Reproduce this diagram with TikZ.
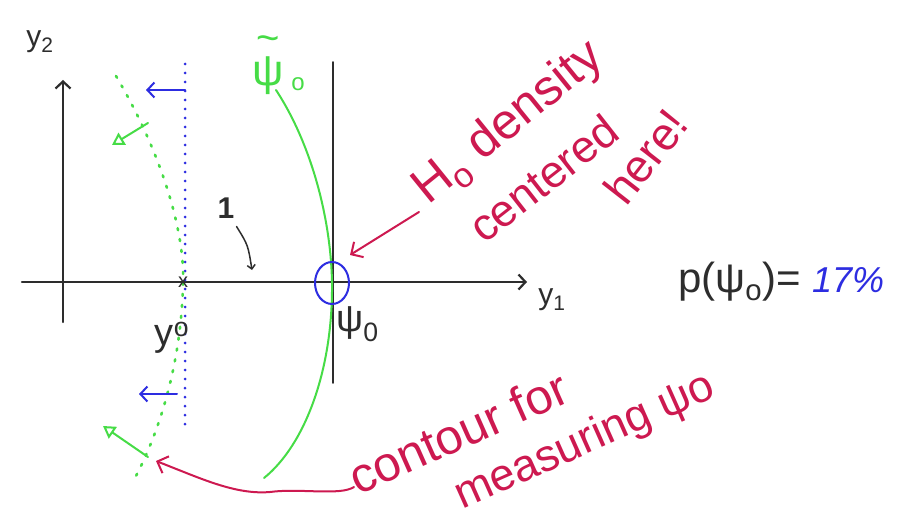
\documentclass[tikz,border=0pt]{standalone}
\usepackage{fontspec}
\setmainfont{Liberation Sans}
\usetikzlibrary{arrows.meta}
\definecolor{rd}{RGB}{205,25,80}
\definecolor{gr}{RGB}{70,220,70}
\definecolor{bl}{RGB}{45,45,225}
\definecolor{ink}{RGB}{45,45,45}
\begin{document}
\begin{tikzpicture}[x=1pt,y=-1pt,line cap=round,line join=round,
  axis/.style={draw=ink,line width=2.2pt},
  barb/.style={-{Straight Barb[length=7pt,width=15pt]}},
  tri/.style={-{Triangle[open,length=12pt,width=14pt,line width=2pt]}},
  lbl/.style={inner sep=0pt,text=ink},
  red/.style={inner sep=0pt,text=rd,font=\fontsize{52}{56}\selectfont}]
\useasboundingbox (0,0) rectangle (916,524);
\fill[white] (0,0) rectangle (916,524);
% axes
\coordinate (xs) at (22,282); \coordinate (xe) at (527,282);
\coordinate (ys) at (63,322); \coordinate (ye) at (63,80);
\coordinate (vs) at (333,62); \coordinate (ve) at (333,383);
\draw[axis,barb] (xs) -- (xe);
\draw[axis,barb] (ys) -- (ye);
\draw[axis,line width=1.7pt] (vs) -- (ve);
\node[lbl,font=\fontsize{30}{32}\selectfont] (y2) at (40,42) {y\textsubscript{2}};
\node[lbl,font=\fontsize{30}{32}\selectfont] (y1) at (552,300) {y\textsubscript{1}};
% blue dotted line
\coordinate (bt) at (185,64); \coordinate (bb) at (185,428);
\draw[bl,line width=3pt,dash pattern=on 0pt off 9pt] (bt) -- (bb);
% green dotted curve
\coordinate (gt) at (116,76); \coordinate (y0) at (183,282); \coordinate (gb) at (136,476);
\draw[gr,line width=2.6pt,dash pattern=on 2pt off 9pt] (gt) .. controls (160,150) and (185,230) .. (y0) .. controls (182,350) and (165,420) .. (gb);
% green contour psi tilde
\coordinate (ct) at (276,90); \coordinate (psi0) at (332,283); \coordinate (cb) at (264,478);
\draw[gr,line width=2pt] (ct) .. controls (312,145) and (331,220) .. (psi0) .. controls (333,370) and (305,445) .. (cb);
\node[lbl,text=gr,font=\fontsize{44}{48}\selectfont] (psit) at (268,76) {ψ};
\node[lbl,text=gr,font=\fontsize{40}{44}\selectfont] (psitt) at (268,44) {\char"7E};
\node[lbl,text=gr,font=\fontsize{24}{26}\selectfont] (psito) at (298,84) {o};
% blue arrows
\coordinate (ba1s) at (185,90); \coordinate (ba1e) at (146,90);
\coordinate (ba2s) at (177,394); \coordinate (ba2e) at (139,394);
\draw[bl,line width=2pt,barb] (ba1s) -- (ba1e);
\draw[bl,line width=2pt,barb] (ba2s) -- (ba2e);
% green arrows
\coordinate (ga1s) at (148,123); \coordinate (ga1e) at (112,145);
\coordinate (ga2s) at (148,457); \coordinate (ga2e) at (103,426);
\draw[gr,line width=2pt,tri] (ga1s) -- (ga1e);
\draw[gr,line width=2pt,tri] (ga2s) -- (ga2e);
% y0 marker
\node[lbl,font=\fontsize{20}{22}\selectfont] (xm) at (y0) {x};
\node[lbl,font=\fontsize{38}{42}\selectfont] (y0l) at (172,338) {y\textsuperscript{o}};
% psi0 and blue circle
\draw[bl,line width=2pt] (psi0) ellipse [x radius=17pt, y radius=21pt];
\node[lbl,font=\fontsize{38}{42}\selectfont,anchor=west] (psil) at (336,324) {ψ\textsubscript{0}};
% the "1" label
\node[lbl,font=\fontsize{30}{32}\selectfont\bfseries] (one) at (226,208) {1};
\coordinate (onea) at (252,270);
\draw[ink,line width=1.5pt,-{Straight Barb[length=4pt,width=8pt]}] (one.south east) ++(2,8) .. controls (248,245) .. (onea);
% red annotation upper
\coordinate (ha) at (419,212); \coordinate (hb) at (350,255);
\draw[rd,line width=2pt,-{Straight Barb[length=9pt,width=18pt]}] (ha) -- (hb);
\node[red,rotate=39,anchor=base west,font=\fontsize{50}{54}\selectfont] (h0) at (428,206) {H\textsubscript{o} density};
\node[red,rotate=38,anchor=base west,font=\fontsize{45}{50}\selectfont] (cen) at (484,245) {centered};
\node[red,rotate=52,anchor=base west,font=\fontsize{46}{50}\selectfont] (here) at (626,208) {here!};
% p(psi0)
\node[lbl,font=\fontsize{42}{46}\selectfont,anchor=west] (p) at (678,282) {p(ψ\textsubscript{o})=};
\node[inner sep=0pt,text=bl,font=\fontsize{36}{40}\selectfont\itshape,anchor=west] (pct) at (812,280) {17\%};
% red annotation lower
\node[red,rotate=24,anchor=base west,font=\fontsize{49}{53}\selectfont] (cont) at (358,496) {contour for};
\node[red,rotate=24,anchor=base west,font=\fontsize{45}{49}\selectfont] (meas) at (462,510) {measuring ψo};
\coordinate (ws) at (354,487); \coordinate (we) at (156,461);
\draw[rd,line width=2pt,-{Straight Barb[length=9pt,width=18pt]}] (ws) .. controls (340,496) and (300,488) .. (270,492) .. controls (235,495) and (200,478) .. (we);
\end{tikzpicture}
\end{document}
